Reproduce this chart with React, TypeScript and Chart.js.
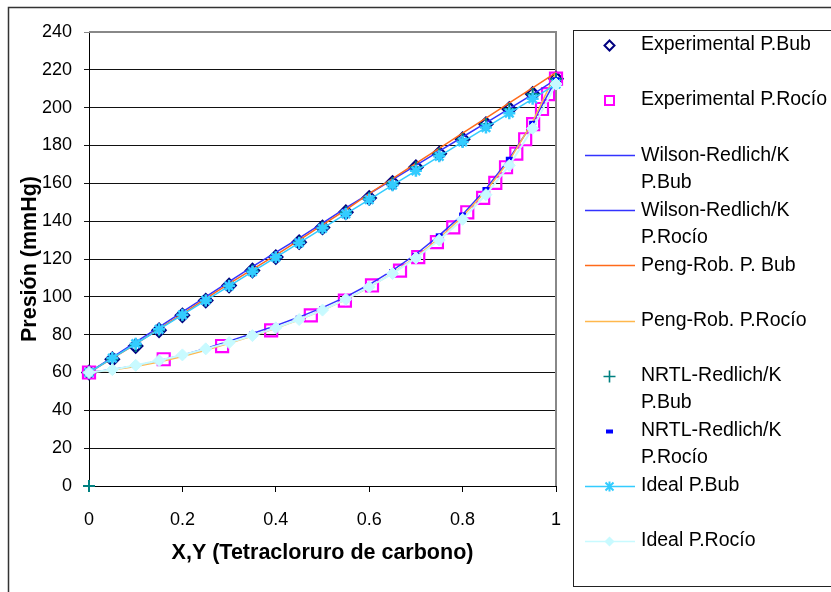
import React, { useEffect, useRef } from "react";
import { Chart, registerables } from "chart.js";

Chart.register(...registerables);

// ---- data ----
const compX = [0, 0.05, 0.1, 0.15, 0.2, 0.25, 0.3, 0.35, 0.4, 0.45, 0.5, 0.55, 0.6, 0.65, 0.7, 0.75, 0.8, 0.85, 0.9, 0.95, 1];
const expP = [60, 67, 74, 82.3, 90.2, 98, 106, 113.9, 121, 128.9, 136.7, 144.7, 152.3, 160.2, 168.5, 175.7, 183.3, 191.3, 199.3, 207.2, 215.3];
const expDewY = [0, 0.16, 0.285, 0.39, 0.475, 0.548, 0.606, 0.666, 0.705, 0.745, 0.78, 0.81, 0.844, 0.87, 0.893, 0.915, 0.934, 0.951, 0.97, 0.983, 1];
const wilsonBubP = [60, 68, 76, 84, 92, 100, 108, 116, 123.5, 131, 139, 147, 154.5, 162, 169.5, 177, 184.5, 192, 199.5, 207, 215];
const wilsonDewP = [60, 61.6, 63.6, 66.2, 69.2, 72.7, 76.6, 80.6, 84.8, 89.3, 94.3, 100, 106.5, 114, 122.5, 132.5, 143.5, 157, 173, 192, 215];
const pengBubP = [60, 67.5, 75, 83, 91, 99, 107, 114.5, 122, 130, 138, 146, 154.5, 162.5, 170.5, 178.5, 186.5, 194.5, 202.5, 210.5, 218.5];
const pengDewP = [60, 61.3, 63.2, 65.6, 68.5, 71.8, 75.4, 79.3, 83.4, 87.9, 92.9, 98.5, 105, 112.5, 121, 131, 142.5, 156, 172, 192.5, 218.5];
const nrtlBubX = [0, 0, 0.05, 0.1, 0.15, 0.2, 0.25, 0.3, 0.35, 0.4, 0.45, 0.5, 0.55, 0.6, 0.65, 0.7, 0.75, 0.8, 0.85, 0.9, 0.95, 1];
const nrtlBubP = [0, 60, 67, 74, 82.3, 90.2, 98, 106, 113.9, 121, 128.9, 136.7, 144.7, 152.3, 160.2, 168.5, 175.7, 183.3, 191.3, 199.3, 207.2, 215.3];
const nrtlDewP = [60, 61.5, 63.5, 66, 69, 72.5, 76.5, 80.5, 84.5, 89, 94, 99.5, 106, 113.5, 122, 132.5, 143.5, 157, 173, 192, 215];
const idealBubP = [60, 67.6, 75.2, 82.8, 90.5, 98.1, 105.7, 113.3, 120.9, 128.5, 136.2, 143.8, 151.4, 159, 166.6, 174.3, 181.9, 189.5, 197.1, 204.7, 212.5];
const idealDewP = [60, 61.5, 63.8, 66.3, 69.3, 72.5, 75.8, 79.5, 83.6, 88, 93, 98.7, 105.2, 112.3, 120.5, 130, 141, 154, 169.5, 189, 212.5];

const xTicks = [0, 0.2, 0.4, 0.6, 0.8, 1];
const xTickLabels = ["0", "0.2", "0.4", "0.6", "0.8", "1"];
const yTicks = [0, 20, 40, 60, 80, 100, 120, 140, 160, 180, 200, 220, 240];

const seriesNames = [
  ["Experimental P.Bub"],
  ["Experimental P.Rocío"],
  ["Wilson-Redlich/K", "P.Bub"],
  ["Wilson-Redlich/K", "P.Rocío"],
  ["Peng-Rob. P. Bub"],
  ["Peng-Rob. P.Rocío"],
  ["NRTL-Redlich/K", "P.Bub"],
  ["NRTL-Redlich/K", "P.Rocío"],
  ["Ideal P.Bub"],
  ["Ideal P.Rocío"],
];
const xTitle = "X,Y (Tetracloruro de carbono)";
const yTitle = "Presión (mmHg)";

const FONT = "'Liberation Sans', Arial, sans-serif";

const C = {
  expBub: "#000080",
  expDew: "#FF00FF",
  wilson: "#3333FF",
  pengBub: "#FF6A1A",
  pengDew: "#FFB84D",
  nrtlBub: "#008080",
  nrtlDew: "#0000FF",
  idealBub: "#33CCFF",
  idealDew: "#C8FAFF",
};

const pts = (xs: number[], ys: number[]) => xs.map((x, i) => ({ x, y: ys[i] }));

function drawMarker(ctx: CanvasRenderingContext2D, kind: string, x: number, y: number) {
  ctx.save();
  if (kind === "diamondHollow") {
    ctx.strokeStyle = C.expBub; ctx.lineWidth = 2;
    ctx.beginPath(); ctx.moveTo(x, y - 5); ctx.lineTo(x + 5, y); ctx.lineTo(x, y + 5); ctx.lineTo(x - 5, y); ctx.closePath(); ctx.stroke();
  } else if (kind === "square") {
    ctx.strokeStyle = C.expDew; ctx.lineWidth = 2;
    ctx.strokeRect(x - 4.5, y - 4.5, 9, 9);
  } else if (kind === "plus") {
    ctx.strokeStyle = C.nrtlBub; ctx.lineWidth = 1.6;
    ctx.beginPath(); ctx.moveTo(x - 6, y); ctx.lineTo(x + 6, y); ctx.moveTo(x, y - 6); ctx.lineTo(x, y + 6); ctx.stroke();
  } else if (kind === "dash") {
    ctx.fillStyle = C.nrtlDew; ctx.fillRect(x - 3.5, y - 2, 7, 4);
  } else if (kind === "star") {
    ctx.strokeStyle = C.idealBub; ctx.lineWidth = 2;
    ctx.beginPath();
    ctx.moveTo(x - 4, y - 4); ctx.lineTo(x + 4, y + 4);
    ctx.moveTo(x + 4, y - 4); ctx.lineTo(x - 4, y + 4);
    ctx.moveTo(x, y - 5); ctx.lineTo(x, y + 5);
    ctx.stroke();
  } else if (kind === "diamondFill") {
    ctx.fillStyle = C.idealDew;
    ctx.beginPath(); ctx.moveTo(x, y - 5); ctx.lineTo(x + 5, y); ctx.lineTo(x, y + 5); ctx.lineTo(x - 5, y); ctx.closePath(); ctx.fill();
  }
  ctx.restore();
}

const legendSpec = [
  { line: null, marker: "diamondHollow" },
  { line: null, marker: "square" },
  { line: C.wilson, marker: null },
  { line: C.wilson, marker: null },
  { line: C.pengBub, marker: null },
  { line: C.pengDew, marker: null },
  { line: null, marker: "plus" },
  { line: null, marker: "dash" },
  { line: C.idealBub, marker: "star" },
  { line: C.idealDew, marker: "diamondFill" },
];

const decorPlugin = {
  id: "decor",
  beforeDraw(chart: any) {
    const ctx = chart.ctx as CanvasRenderingContext2D;
    ctx.save();
    ctx.fillStyle = "#fff";
    ctx.fillRect(0, 0, chart.width, chart.height);
    ctx.restore();
  },
  beforeDatasetsDraw(chart: any) {
    const ctx = chart.ctx as CanvasRenderingContext2D;
    const a = chart.chartArea;
    ctx.save();
    ctx.strokeStyle = "#888";
    ctx.lineWidth = 2;
    ctx.beginPath();
    ctx.moveTo(a.left, a.top);
    ctx.lineTo(a.right, a.top);
    ctx.lineTo(a.right, a.bottom);
    ctx.stroke();
    ctx.restore();
  },
  afterDraw(chart: any) {
    const ctx = chart.ctx as CanvasRenderingContext2D;
    const a = chart.chartArea;
    ctx.save();
    // outer chart border
    ctx.strokeStyle = "#333";
    ctx.lineWidth = 1.5;
    ctx.beginPath();
    ctx.moveTo(8.5, chart.height + 5);
    ctx.lineTo(8.5, 7.5);
    ctx.lineTo(chart.width + 5, 7.5);
    ctx.stroke();

    // axis titles
    ctx.fillStyle = "#000";
    ctx.font = `bold 21.5px ${FONT}`;
    ctx.textAlign = "center";
    ctx.textBaseline = "middle";
    ctx.fillText(xTitle, (a.left + a.right) / 2, 553);
    ctx.save();
    ctx.translate(30, (a.top + a.bottom) / 2);
    ctx.rotate(-Math.PI / 2);
    ctx.fillText(yTitle, 0, 0);
    ctx.restore();

    // legend box
    ctx.strokeStyle = "#222";
    ctx.lineWidth = 1;
    ctx.strokeRect(573.5, 30.5, 300, 556);

    ctx.font = `19.5px ${FONT}`;
    ctx.textAlign = "left";
    ctx.textBaseline = "middle";
    const yStart = 45;
    const step = 55.1;
    seriesNames.forEach((lines, i) => {
      const y = yStart + i * step;
      const spec = legendSpec[i];
      if (spec.line) {
        ctx.save();
        ctx.strokeStyle = spec.line;
        ctx.lineWidth = 1.5;
        ctx.beginPath();
        ctx.moveTo(585, Math.round(y) + 0.5);
        ctx.lineTo(635, Math.round(y) + 0.5);
        ctx.stroke();
        ctx.restore();
      }
      if (spec.marker) drawMarker(ctx, spec.marker, 609.5, Math.round(y) + 0.5);
      ctx.fillStyle = "#000";
      lines.forEach((t, j) => ctx.fillText(t, 641, y + j * 27));
    });
    ctx.restore();
  },
};

export default function App() {
  const ref = useRef<HTMLCanvasElement | null>(null);

  useEffect(() => {
    if (!ref.current) return;
    const n = seriesNames.length;
    const base = (i: number) => ({ order: n - 1 - i, label: seriesNames[i].join(" ") });
    const chart = new Chart(ref.current, {
      type: "scatter",
      data: {
        datasets: [
          {
            ...base(0), data: pts(compX, expP), showLine: false,
            pointStyle: "rectRot", pointRadius: 6.5, pointBorderWidth: 2.4,
            borderColor: C.expBub, backgroundColor: "rgba(0,0,0,0)",
          },
          {
            ...base(1), data: pts(expDewY, expP), showLine: false,
            pointStyle: "rect", pointRadius: 8.5, pointBorderWidth: 2.2,
            borderColor: C.expDew, backgroundColor: "rgba(0,0,0,0)",
          },
          {
            ...base(2), data: pts(compX, wilsonBubP), showLine: true,
            borderColor: C.wilson, borderWidth: 1.5, pointRadius: 0,
          },
          {
            ...base(3), data: pts(compX, wilsonDewP), showLine: true,
            borderColor: C.wilson, borderWidth: 1.5, pointRadius: 0,
          },
          {
            ...base(4), data: pts(compX, pengBubP), showLine: true,
            borderColor: C.pengBub, borderWidth: 1.5, pointRadius: 0,
          },
          {
            ...base(5), data: pts(compX, pengDewP), showLine: true,
            borderColor: C.pengDew, borderWidth: 1.5, pointRadius: 0,
          },
          {
            ...base(6), data: pts(nrtlBubX, nrtlBubP), showLine: false,
            pointStyle: "cross", pointRadius: 6, pointBorderWidth: 2,
            borderColor: C.nrtlBub, backgroundColor: C.nrtlBub,
          },
          {
            ...base(7), data: pts(compX, nrtlDewP), showLine: false,
            pointStyle: "line", pointRadius: 3.5, pointBorderWidth: 4,
            borderColor: C.nrtlDew, backgroundColor: C.nrtlDew,
          },
          {
            ...base(8), data: pts(compX, idealBubP), showLine: true,
            borderColor: C.idealBub, borderWidth: 1.5,
            pointStyle: "star", pointRadius: 6, pointBorderWidth: 2.5,
            pointBorderColor: C.idealBub, pointBackgroundColor: C.idealBub,
          },
          {
            ...base(9), data: pts(compX, idealDewP), showLine: true,
            borderColor: C.idealDew, borderWidth: 2,
            pointStyle: "rectRot", pointRadius: 6, pointBorderWidth: 1,
            pointBorderColor: C.idealDew, pointBackgroundColor: C.idealDew,
          },
        ].map((d: any) => ({ ...d, clip: false, tension: 0 })),
      },
      options: {
        animation: false,
        responsive: false,
        devicePixelRatio: 1,
        layout: { padding: { left: 0, top: 32, right: 831 - 556, bottom: 0 } },
        plugins: { legend: { display: false }, tooltip: { enabled: false }, title: { display: false } },
        scales: {
          x: {
            type: "linear",
            min: 0,
            max: 1,
            afterFit: (s: any) => { s.height = 106; },
            afterBuildTicks: (s: any) => { s.ticks = xTicks.map((v) => ({ value: v })); },
            ticks: {
              color: "#000",
              font: { family: FONT, size: 18 },
              padding: 17,
              maxRotation: 0,
              autoSkip: false,
              callback: (v: any) => {
                const k = xTicks.findIndex((t) => Math.abs(t - Number(v)) < 1e-9);
                return k >= 0 ? xTickLabels[k] : "";
              },
            },
            grid: { drawOnChartArea: false, drawTicks: true, tickLength: 6, color: "#000", lineWidth: 1 },
            border: { display: true, color: "#000", width: 1 },
          },
          y: {
            type: "linear",
            min: 0,
            max: 240,
            afterFit: (s: any) => { s.width = 89; },
            afterBuildTicks: (s: any) => { s.ticks = yTicks.map((v) => ({ value: v })); },
            ticks: {
              color: "#000",
              font: { family: FONT, size: 18 },
              padding: 12,
              autoSkip: false,
            },
            grid: {
              drawTicks: true,
              tickLength: 5,
              lineWidth: 1,
              color: (c: any) => (c.tick && c.tick.value === 240 ? "#888" : "#111"),
            },
            border: { display: true, color: "#000", width: 1 },
          },
        },
      },
      plugins: [decorPlugin],
    } as any);
    return () => chart.destroy();
  }, []);

  return (
    <div style={{ position: "absolute", left: 0, top: 0, width: 831, height: 592, background: "#fff" }}>
      <canvas ref={ref} width={831} height={592} style={{ display: "block", width: 831, height: 592 }} />
    </div>
  );
}
